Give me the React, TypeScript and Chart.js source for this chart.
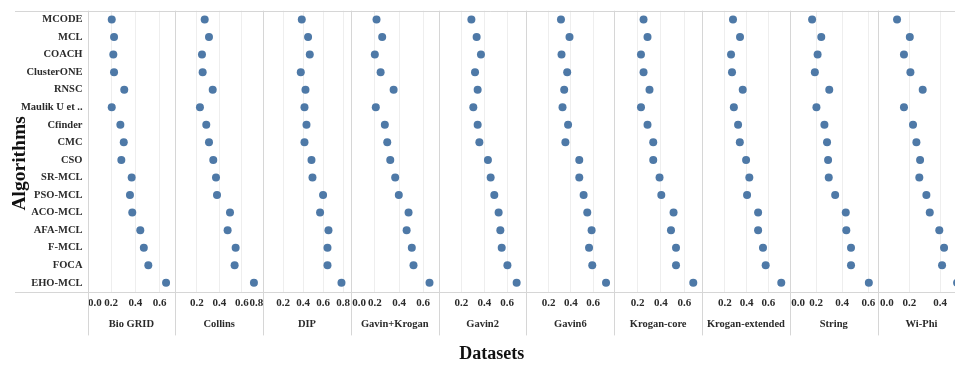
import React, { useEffect, useRef } from "react";
import { Chart, registerables } from "chart.js";

Chart.register(...registerables);

// ---------- data ----------
const algorithms = [
  "MCODE", "MCL", "COACH", "ClusterONE", "RNSC", "Maulik U et ..", "Cfinder", "CMC",
  "CSO", "SR-MCL", "PSO-MCL", "ACO-MCL", "AFA-MCL", "F-MCL", "FOCA", "EHO-MCL",
];

const datasetNames = [
  "Bio GRID", "Collins", "DIP", "Gavin+Krogan", "Gavin2",
  "Gavin6", "Krogan-core", "Krogan-extended", "String", "Wi-Phi",
];

const bioGrid = [0.206, 0.225, 0.219, 0.225, 0.309, 0.206, 0.277, 0.305, 0.285, 0.370, 0.356, 0.375, 0.441, 0.470, 0.507, 0.653];
const collins = [0.270, 0.308, 0.246, 0.252, 0.341, 0.228, 0.284, 0.308, 0.346, 0.370, 0.379, 0.494, 0.473, 0.544, 0.535, 0.706];
const dip = [0.387, 0.450, 0.467, 0.377, 0.424, 0.414, 0.434, 0.414, 0.484, 0.494, 0.600, 0.570, 0.654, 0.644, 0.644, 0.784];
const gavinKrogan = [0.213, 0.260, 0.199, 0.247, 0.355, 0.207, 0.282, 0.302, 0.327, 0.368, 0.398, 0.479, 0.463, 0.506, 0.520, 0.653];
const gavin2 = [0.287, 0.333, 0.371, 0.319, 0.342, 0.304, 0.342, 0.357, 0.432, 0.456, 0.488, 0.526, 0.541, 0.553, 0.603, 0.684];
const gavin6 = [0.311, 0.388, 0.316, 0.367, 0.340, 0.325, 0.375, 0.351, 0.476, 0.476, 0.515, 0.548, 0.587, 0.564, 0.593, 0.717];
const kroganCore = [0.251, 0.285, 0.229, 0.251, 0.302, 0.229, 0.285, 0.334, 0.334, 0.388, 0.403, 0.508, 0.486, 0.529, 0.529, 0.677];
const kroganExtended = [0.274, 0.339, 0.256, 0.265, 0.364, 0.282, 0.321, 0.337, 0.395, 0.425, 0.404, 0.506, 0.506, 0.551, 0.576, 0.720];
const stringDb = [0.170, 0.240, 0.212, 0.191, 0.301, 0.203, 0.264, 0.284, 0.292, 0.297, 0.346, 0.427, 0.431, 0.467, 0.467, 0.603];
const wiPhi = [0.120, 0.203, 0.165, 0.207, 0.287, 0.165, 0.224, 0.246, 0.270, 0.265, 0.311, 0.333, 0.395, 0.426, 0.413, 0.511];

const axisMin = [0.0066, 0.0097, 0, 0, 0, 0, 0, -0.012, 0, -0.0065];
const axisMax = [0.729, 0.787, 0.878, 0.729, 0.770, 0.791, 0.752, 0.799, 0.670, 0.565];

const tickValues = [
  [0, 0.2, 0.4, 0.6],
  [0.2, 0.4, 0.6, 0.8],
  [0.2, 0.4, 0.6, 0.8],
  [0, 0.2, 0.4, 0.6],
  [0.2, 0.4, 0.6],
  [0.2, 0.4, 0.6],
  [0.2, 0.4, 0.6],
  [0.2, 0.4, 0.6],
  [0, 0.2, 0.4, 0.6],
  [0, 0.2, 0.4],
];

// ---------- style ----------
const FONT = '"Liberation Serif", "Times New Roman", serif';
const TEXT = "#2b2b2b";
const DOT = "#4E79A7";
const GRID = "#eeeeee";
const RULE = "#d6d6d6";
const CANVAS_W = 985;
const CANVAS_H = 365;
const PAD = "      ";

function formatTick(v: number, min: number, max: number) {
  const t = v.toFixed(1);
  if (v - min < 0.05) return PAD + t;
  if (max - v < 0.05) return t + PAD;
  return t;
}

const panelRules = {
  id: "panelRules",
  beforeDatasetsDraw(chart: any) {
    const { ctx, chartArea } = chart;
    const xs = datasetNames.map((_, i) => chart.scales["x" + i]);
    const y = chart.scales.y;
    const bottom = Math.max(...xs.map((s: any) => s.bottom));
    const crisp = (p: number) => Math.round(p) + 0.5;
    ctx.save();
    ctx.strokeStyle = RULE;
    ctx.lineWidth = 1;
    ctx.beginPath();
    const lx = y.left + 15;
    ctx.moveTo(lx, crisp(chartArea.top));
    ctx.lineTo(chartArea.right, crisp(chartArea.top));
    ctx.moveTo(lx, crisp(chartArea.bottom));
    ctx.lineTo(chartArea.right, crisp(chartArea.bottom));
    xs.forEach((s: any) => {
      ctx.moveTo(crisp(s.left), chartArea.top);
      ctx.lineTo(crisp(s.left), bottom);
    });
    const last = xs[xs.length - 1];
    ctx.moveTo(crisp(last.right), chartArea.top);
    ctx.lineTo(crisp(last.right), bottom);
    ctx.stroke();
    ctx.restore();
  },
};

export default function App() {
  const ref = useRef<HTMLCanvasElement>(null);

  useEffect(() => {
    const canvas = ref.current;
    if (!canvas) return;
    const series = [bioGrid, collins, dip, gavinKrogan, gavin2, gavin6, kroganCore, kroganExtended, stringDb, wiPhi];

    const scales: any = {
      y: {
        type: "category",
        labels: algorithms,
        offset: true,
        position: "left",
        grid: { display: false, drawTicks: false },
        border: { display: false },
        ticks: {
          autoSkip: false,
          padding: 5,
          color: TEXT,
          font: { family: FONT, size: 10.5, weight: "bold" },
        },
        title: {
          display: true,
          text: "Algorithms     ",
          color: "#111",
          font: { family: FONT, size: 19.5, weight: "bold" },
          padding: { top: 8, bottom: 0 },
        },
        afterFit: (s: any) => {
          s.width = 87.5;
          s.paddingTop = 0;
          s.paddingBottom = 0;
        },
      },
    };

    datasetNames.forEach((name, i) => {
      scales["x" + i] = {
        type: "linear",
        axis: "x",
        position: "bottom",
        stack: "panels",
        stackWeight: 1,
        min: axisMin[i],
        max: axisMax[i],
        grid: {
          drawTicks: false,
          color: (ctx: any) => {
            const v = ctx.tick ? ctx.tick.value : undefined;
            if (v === undefined) return GRID;
            return v <= axisMin[i] + 1e-6 || v > axisMax[i] ? "rgba(0,0,0,0)" : GRID;
          },
        },
        border: { display: false },
        ticks: {
          autoSkip: false,
          maxRotation: 0,
          minRotation: 0,
          padding: 5,
          color: TEXT,
          font: { family: FONT, size: 11, weight: "bold" },
          callback: (v: any) => formatTick(Number(v), axisMin[i], axisMax[i]),
        },
        afterBuildTicks: (s: any) => {
          s.ticks = tickValues[i].map((v) => ({ value: v }));
        },
        afterFit: (s: any) => {
          s.paddingLeft = 0;
          s.paddingRight = 0;
        },
        title: {
          display: true,
          text: name,
          color: TEXT,
          font: { family: FONT, size: 10.5, weight: "bold" },
          padding: { top: 3, bottom: 5 },
        },
      };
    });

    const chart = new Chart(canvas, {
      type: "scatter",
      data: {
        datasets: series.map((vals, i) => ({
          label: datasetNames[i],
          xAxisID: "x" + i,
          yAxisID: "y",
          data: vals.map((v, j) => ({ x: v, y: algorithms[j] as any })),
          pointRadius: 4,
          pointHoverRadius: 4,
          backgroundColor: DOT,
          borderColor: DOT,
          borderWidth: 0,
        })),
      },
      options: {
        animation: false,
        responsive: false,
        devicePixelRatio: 1,
        layout: { padding: { top: 10.7, right: CANVAS_W - 965.4, bottom: 0, left: 0 } },
        scales,
        plugins: {
          legend: { display: false },
          tooltip: { enabled: false },
          title: {
            display: true,
            position: "bottom",
            text: "    Datasets",
            color: "#111",
            font: { family: FONT, size: 18, weight: "bold" },
            padding: { top: 8, bottom: 0 },
          },
        },
      } as any,
      plugins: [panelRules],
    });

    return () => chart.destroy();
  }, []);

  return (
    <div
      style={{
        position: "fixed",
        left: 0,
        top: 0,
        width: 955,
        height: CANVAS_H,
        overflow: "hidden",
        background: "#fff",
      }}
    >
      <canvas
        ref={ref}
        width={CANVAS_W}
        height={CANVAS_H}
        style={{ display: "block", width: CANVAS_W, height: CANVAS_H }}
      />
    </div>
  );
}
